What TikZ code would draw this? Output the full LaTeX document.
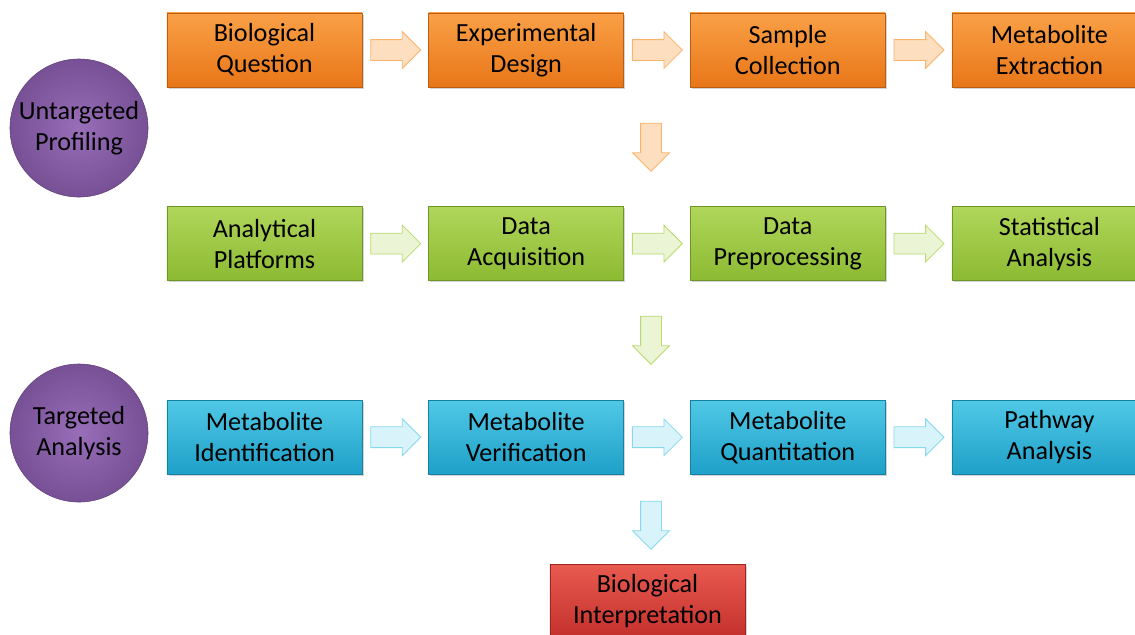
\documentclass[tikz,border=0pt]{standalone}
\usepackage{fontspec}
\setmainfont{Carlito}
\usetikzlibrary{positioning,shapes.arrows,shadows,calc}

\definecolor{orangetop}{RGB}{250,160,70}
\definecolor{orangebot}{RGB}{232,118,24}
\definecolor{greentop}{RGB}{176,214,90}
\definecolor{greenbot}{RGB}{140,186,50}
\definecolor{bluetop}{RGB}{80,200,230}
\definecolor{bluebot}{RGB}{30,160,200}
\definecolor{redtop}{RGB}{232,90,80}
\definecolor{redbot}{RGB}{196,48,44}
\definecolor{purplefill}{RGB}{140,94,176}

\begin{document}
\begin{tikzpicture}[x=0.025cm, y=-0.025cm,
						block/.style={rectangle, minimum width=4.875cm, minimum height=1.85cm, align=center,
							font=\fontsize{18.6}{22}\selectfont, text=black, inner sep=0pt,
							drop shadow={shadow xshift=1.2pt, shadow yshift=-1.2pt, opacity=0.35}},
						orangebox/.style={block, top color=orangetop, bottom color=orangebot, draw=orangebot!80!black},
						greenbox/.style={block, top color=greentop, bottom color=greenbot, draw=greenbot!80!black},
						bluebox/.style={block, top color=bluetop, bottom color=bluebot, draw=bluebot!80!black},
						redbox/.style={block, top color=redtop, bottom color=redbot, draw=redbot!80!black},
						badge/.style={circle, minimum size=3.45cm, inner sep=0pt, align=center,
							font=\fontsize{18.6}{22}\selectfont, text=black,
							inner color=purplefill!90!white, outer color=purplefill!85!black, draw=purplefill!70!black},
						flow/.style={single arrow, minimum height=1.25cm, inner xsep=0pt, inner ysep=0.25cm,
							single arrow head extend=0.2cm, line width=0.6pt, xshift=-0.12cm},
						downflow/.style={single arrow, shape border rotate=270, minimum height=1.2cm,
							inner xsep=0.25cm, inner ysep=0pt, single arrow head extend=0.2cm, line width=0.6pt},
						orangeflow/.style={fill=orangetop!35!white, draw=orangetop!80!white},
						greenflow/.style={fill=greentop!25!white, draw=greentop!90!white},
						blueflow/.style={fill=bluetop!22!white, draw=bluetop!70!white}
					]
					\useasboundingbox (0,0) rectangle (1135,634);
					% row 1
					\node[orangebox] (bioq) at (264.5,50) {Biological\\Question};
					\node[orangebox] (expd) [right=1.65cm of bioq] {Experimental\\Design};
					\node[orangebox] (samp) [right=1.65cm of expd] {Sample\\Collection};
					\node[orangebox] (extr) [right=1.65cm of samp] {Metabolite\\Extraction};
					% row 2
					\node[greenbox] (plat) [below=2.975cm of bioq] {Analytical\\Platforms};
					\node[greenbox] (acq) [right=1.65cm of plat] {Data\\Acquisition};
					\node[greenbox] (prep) [right=1.65cm of acq] {Data\\Preprocessing};
					\node[greenbox] (stat) [right=1.65cm of prep] {Statistical\\Analysis};
					% row 3
					\node[bluebox] (ident) [below=2.975cm of plat] {Metabolite\\Identification};
					\node[bluebox] (verif) [right=1.65cm of ident] {Metabolite\\Verification};
					\node[bluebox] (quant) [right=1.65cm of verif] {Metabolite\\Quantitation};
					\node[bluebox] (path) [right=1.65cm of quant] {Pathway\\Analysis};
					\node[redbox] (interp) at (647.5,601) {Biological\\Interpretation};
					% circles
					\node[badge] (untarg) at (79,128) {Untargeted\\Profiling};
					\node[badge] (targ) at (79,433) {Targeted\\Analysis};
					% block arrows
					\begin{scope}
					\node[flow, orangeflow] (o1) at ($(bioq.east)!0.5!(expd.west)$) {};
					\node[flow, orangeflow] (o2) at ($(expd.east)!0.5!(samp.west)$) {};
					\node[flow, orangeflow] (o3) at ($(samp.east)!0.5!(extr.west)$) {};
					\node[downflow, orangeflow] (od) at (651,142) {};
					\node[flow, greenflow] (g1) at ($(plat.east)!0.5!(acq.west)$) {};
					\node[flow, greenflow] (g2) at ($(acq.east)!0.5!(prep.west)$) {};
					\node[flow, greenflow] (g3) at ($(prep.east)!0.5!(stat.west)$) {};
					\node[downflow, greenflow] (gd) at (651,335) {};
					\node[flow, blueflow] (b1) at ($(ident.east)!0.5!(verif.west)$) {};
					\node[flow, blueflow] (b2) at ($(verif.east)!0.5!(quant.west)$) {};
					\node[flow, blueflow] (b3) at ($(quant.east)!0.5!(path.west)$) {};
					\node[downflow, blueflow] (bd) at (651,520) {};
					\end{scope}
					\end{tikzpicture}
\end{document}
